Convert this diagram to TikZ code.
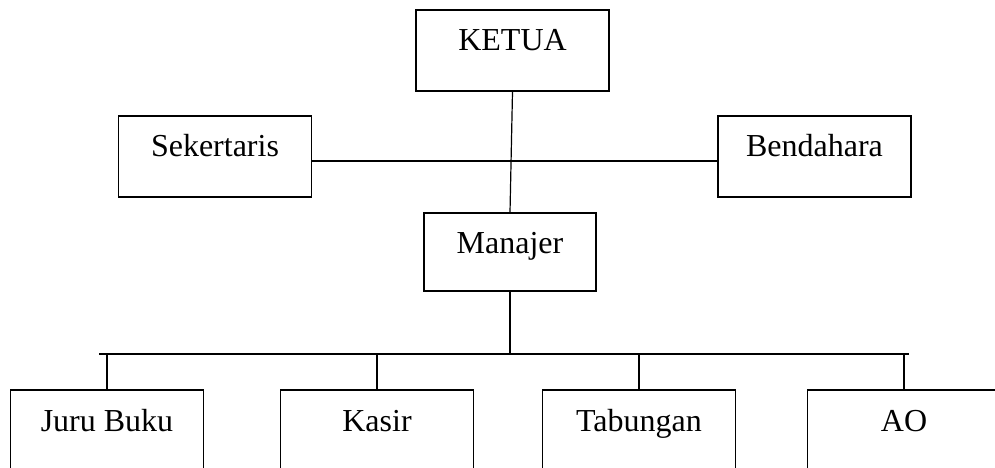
\documentclass[tikz,border=0pt]{standalone}
\usepackage{fontspec}
\setmainfont{Liberation Serif}
\usepackage{tikz}
\usetikzlibrary{positioning, calc}

\begin{document}
\begin{tikzpicture}[x=1pt, y=-1pt, line width=1.2pt,
    unit/.style={draw, rectangle, inner sep=0pt, minimum width=193pt,
                 text height=41pt, text depth=40pt,
                 font=\fontsize{32}{38}\selectfont}]
  \clip (0,0) rectangle (995,468);

  % Top level
  \node[unit] (ketua) at (512.5, 50.5) {KETUA};
  \node[unit] (sekertaris) at (215, 156.5) {Sekertaris};
  \node[unit] (bendahara) at (814.5, 156.5) {Bendahara};
  \node[unit, minimum width=172pt, text height=40pt, text depth=38pt] (manajer) at (510, 252) {Manajer};

  \draw (ketua.south) -- (manajer.north);
  \draw ([yshift=-4.5pt]sekertaris.east) -- ([yshift=-4.5pt]bendahara.west);

  % Staff
  \node[unit] (jurubuku) at (107, 430.5) {Juru Buku};
  \node[unit] (kasir) at (377, 430.5) {Kasir};
  \node[unit] (tabungan) at (639, 430.5) {Tabungan};
  \node[unit] (ao) at (904, 430.5) {AO};

  \coordinate (busL) at (99, 354);
  \coordinate (busR) at (909, 354);
  \draw (busL) -- (busR);
  \draw (manajer.south) -- (manajer.south |- busL);
  \foreach \n in {jurubuku, kasir, tabungan, ao} {
    \draw (\n.north) -- (\n.north |- busL);
  }
\end{tikzpicture}
\end{document}
